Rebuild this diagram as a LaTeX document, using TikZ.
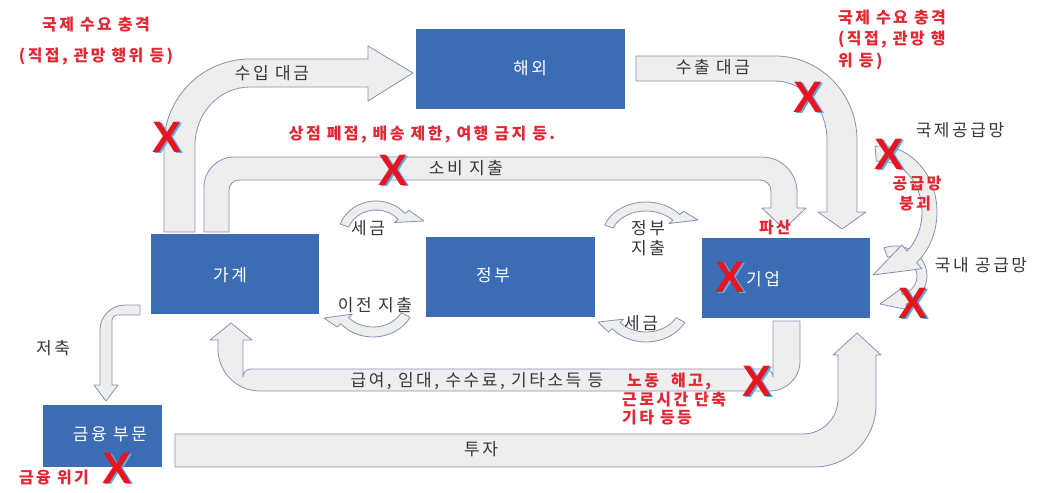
\documentclass[tikz,border=0pt]{standalone}
\usepackage{fontspec}
\newfontfamily\kr[LetterSpace=15]{Noto Sans CJK KR}
\newfontfamily\xfnt{Liberation Sans}
\definecolor{boxblue}{RGB}{59,108,180}
\definecolor{arrfill}{RGB}{238,238,238}
\definecolor{arredge}{RGB}{132,146,178}
\definecolor{txtgray}{RGB}{55,55,55}
\definecolor{redtxt}{RGB}{226,40,52}
\definecolor{xred}{RGB}{232,20,30}
\definecolor{xblue}{RGB}{90,170,230}
\tikzset{
 box/.style={fill=boxblue, draw=none, inner sep=0},
 barrow/.style={fill=arrfill, draw=arredge, line width=0.8pt, line join=round},
 lbl/.style={font=\kr\fontsize{17}{20}\selectfont, text=txtgray, inner sep=0},
 rlbl/.style={font=\kr\bfseries\fontsize{16}{21}\selectfont, text=redtxt, inner sep=0},
 wlbl/.style={font=\kr\fontsize{17}{20}\selectfont, text=white, inner sep=0},
 xm/.style={font=\xfnt\bfseries\fontsize{44}{44}\selectfont, text=xred, inner sep=0},
 xs/.style={font=\xfnt\bfseries\fontsize{44}{44}\selectfont, text=xblue, inner sep=0},
}
% curved block arrow: cx cy rx ry w a1 a2 h tip
\newcommand{\curvarr}[9]{%
 \pgfmathsetmacro{\irx}{#3-#5}\pgfmathsetmacro{\iry}{#4-#5}%
 \draw[barrow] ({#1+#3*cos(#6)},{#2-#4*sin(#6)}) arc[start angle=#6,end angle=#7,x radius=#3pt,y radius=#4pt]
  -- ({#1+(#3+#8)*cos(#7)},{#2-(#4+#8)*sin(#7)}) -- (#9)
  -- ({#1+(\irx-#8)*cos(#7)},{#2-(\iry-#8)*sin(#7)})
  -- ({#1+\irx*cos(#7)},{#2-\iry*sin(#7)}) arc[start angle=#7,end angle=#6,x radius=\irx pt,y radius=\iry pt] -- cycle;}
\newcommand{\redx}[3]{\node[xs] (#1s) at (#2+2,#3+1.5) {X}; \node[xm] (#1) at (#2,#3) {X};}
\begin{document}
\begin{tikzpicture}[x=1pt,y=-1pt]
\useasboundingbox (0,0) rectangle (1037,493);
\fill[white] (0,0) rectangle (1037,493);
% big block arrows
% 수입 대금
\draw[barrow] (164,232) -- (164,145) arc[start angle=180,end angle=90,x radius=86pt,y radius=86pt] -- (368,59) -- (368,46) -- (413,73) -- (368,101) -- (368,87) -- (250,87) arc[start angle=90,end angle=180,x radius=55pt,y radius=58pt] -- (195,232) -- cycle;
% 소비 지출
\draw[barrow] (204,232) -- (204,187) arc[start angle=180,end angle=90,radius=30pt] -- (762,157) arc[start angle=90,end angle=0,radius=35pt] -- (797,208) -- (806,208) -- (784,229) -- (762,208) -- (771,208) -- (771,191) arc[start angle=0,end angle=90,radius=11pt] -- (239,180) arc[start angle=90,end angle=180,radius=10pt] -- (229,232) -- cycle;
% 수출 대금
\draw[barrow] (636,56) -- (775,56) arc[start angle=90,end angle=0,x radius=82pt,y radius=84pt] -- (857,212) -- (866,212) -- (842,229) -- (818,212) -- (827,212) -- (827,140) arc[start angle=0,end angle=90,x radius=52pt,y radius=59pt] -- (636,81) -- cycle;
% 급여
\draw[barrow] (773,321) -- (800,321) -- (800,361) arc[start angle=0,end angle=-90,radius=30pt] -- (260,391) arc[start angle=-90,end angle=-180,radius=42pt] -- (218,340) -- (210,340) -- (231,323) -- (252,340) -- (243,340) -- (243,377) arc[start angle=180,end angle=90,radius=8pt] -- (765,369) arc[start angle=90,end angle=0,radius=8pt] -- cycle;
% 투자
\draw[barrow] (175,434) -- (803,434) arc[start angle=-90,end angle=0,radius=35pt] -- (838,355) -- (833,355) -- (857,333) -- (881,355) -- (876,355) -- (876,405) arc[start angle=0,end angle=-90,radius=62pt] -- (175,467) -- cycle;
% 저축
\draw[barrow] (140,305) -- (125,305) arc[start angle=90,end angle=180,radius=25pt] -- (100,385) -- (94,385) -- (106,401) -- (118,385) -- (112,385) -- (112,320) arc[start angle=180,end angle=90,radius=5pt] -- (140,315) -- cycle;
% small curved arrows
\curvarr{376}{236}{38}{35}{9}{160}{40}{5}{424,221}
\curvarr{373}{300}{42}{37}{10}{-28}{-140}{5}{324,318}
\curvarr{646}{237}{44}{35}{9}{160}{40}{5}{698,220}
\curvarr{646}{305}{44}{37}{10}{-28}{-140}{5}{598,322}
\curvarr{895}{276}{32}{30}{10}{110}{-70}{6}{880,304}
\curvarr{880}{212}{57}{66}{15}{95}{-50}{8}{873,275}
% boxes
\node[box, minimum width=209pt, minimum height=80pt] (haeoe) at (520.5,69) {};
\node[box, minimum width=168pt, minimum height=80pt] (gagye) at (235,274) {};
\node[box, minimum width=169pt, minimum height=80pt] (jeongbu) at (510.5,277) {};
\node[box, minimum width=168pt, minimum height=80pt] (gieop) at (786,278) {};
\node[box, minimum width=119pt, minimum height=62pt] (geumyung) at (102.5,436) {};
\node[wlbl] (thaeoe) at (530,68) {해외};
\node[wlbl] (tgagye) at (230,275) {가계};
\node[wlbl] (tjeongbu) at (493,275) {정부};
\node[wlbl] (tgieop) at (763,279) {기업};
\node[wlbl] (tgeumyung) at (110,434) {금융 부문};
% black labels
\node[lbl] (l1) at (272,73) {수입 대금};
\node[lbl] (l2) at (713,67) {수출 대금};
\node[lbl] (l3) at (466,168) {소비 지출};
\node[lbl] (l4) at (960,130) {국제공급망};
\node[lbl] (l5) at (981,265) {국내 공급망};
\node[lbl] (l6) at (368,228) {세금};
\node[lbl] (l7) at (375,305) {이전 지출};
\node[lbl, align=center] (l8) at (648,238) {정부\\지출};
\node[lbl] (l9) at (641,323) {세금};
\node[lbl] (l10) at (53,348) {저축};
\node[lbl] (l11) at (477,381) {급여, 임대, 수수료, 기타소득 등};
\node[lbl] (l12) at (481,449) {투자};
% red labels
\node[rlbl] (r1) at (96,25) {국제 수요 충격};
\node[rlbl] (r2) at (96,57) {(직접, 관망 행위 등)};
\node[rlbl] (r3) at (422,135) {상점 폐점, 배송 제한, 여행 금지 등.};
\node[rlbl, anchor=west] (r4) at (838,18) {국제 수요 충격};
\node[rlbl, anchor=west] (r5) at (838,40) {(직접, 관망 행};
\node[rlbl, anchor=west] (r6) at (838,61) {위 등)};
\node[rlbl] (r7) at (917,184) {공급망};
\node[rlbl] (r8) at (915,204) {붕괴};
\node[rlbl] (r9) at (775,228) {파산};
\node[rlbl, anchor=west] (r10) at (627,382) {노동 \ 해고,};
\node[rlbl, anchor=west] (r11) at (622,400) {근로시간 단축};
\node[rlbl, anchor=west] (r12) at (622,418) {기타 등등};
\node[rlbl] (r13) at (54,478) {금융 위기};
% X marks
\redx{x1}{167}{137}
\redx{x2}{393}{170}
\redx{x3}{808}{97}
\redx{x4}{889}{154}
\redx{x5}{730}{277}
\redx{x6}{913}{303}
\redx{x7}{757}{381}
\redx{x8}{117}{468}
\end{tikzpicture}
\end{document}
